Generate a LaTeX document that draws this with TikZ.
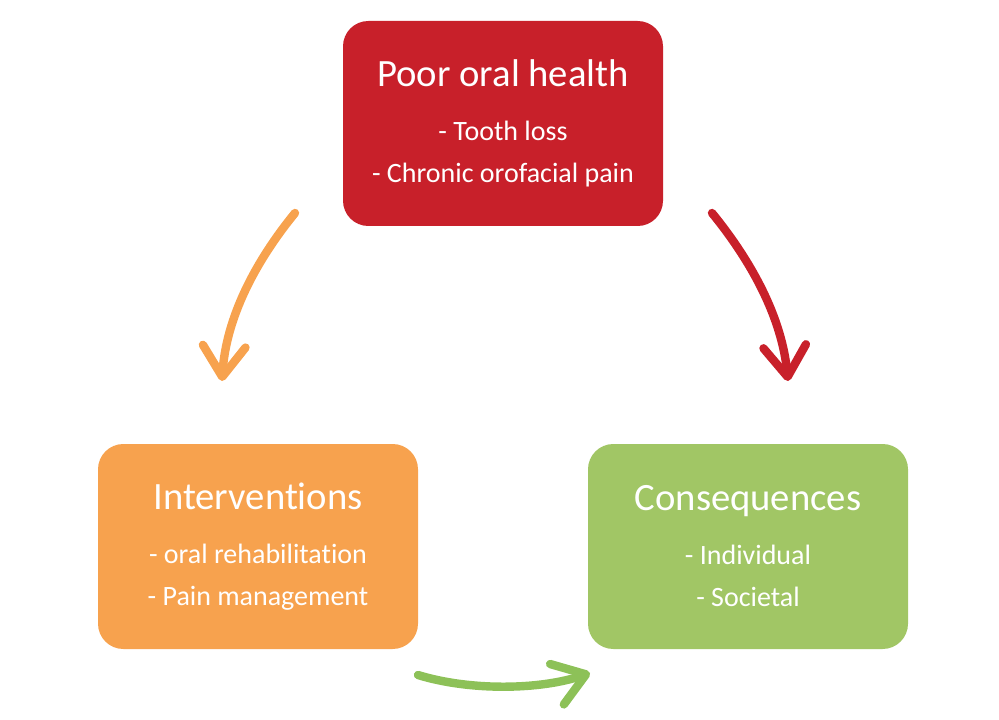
\documentclass[tikz,border=0pt]{standalone}
\usepackage{fontspec}
\setmainfont{Carlito}[Ligatures=NoCommon]
\usetikzlibrary{arrows.meta, positioning}
\definecolor{poorred}{HTML}{C8202A}
\definecolor{intorange}{HTML}{F7A24E}
\definecolor{consgreen}{HTML}{A1C665}
\definecolor{arrowgreen}{HTML}{8DC158}
\newcommand{\titlefont}{\fontsize{29}{31.5}\selectfont}
\newcommand{\itemfont}{\fontsize{21}{31.5}\selectfont}
\tikzset{x=0.75pt, y=-0.75pt, % one unit is one pixel of the figure, y going down
box/.style={rectangle, rounded corners=19pt, minimum width=240pt, minimum height=153.75pt,
  inner sep=0pt, text=white, align=center, font=\itemfont}, % the three coloured boxes
curve/.style={line width=6.3pt, line cap=round,
  -{Straight Barb[length=23pt, width=32pt, round]}}, % thick hand drawn arrows
}

\begin{document}
\begin{tikzpicture}
  \useasboundingbox (0,0) rectangle (999,720);

  \node[box, fill=poorred] (poor) at (503,123.5)
    {\titlefont Poor oral health\\[9pt] - Tooth loss\\ - Chronic orofacial pain};
  \node[box, fill=intorange] (interv) at (258,546.5)
    {\titlefont Interventions\\[9pt] - oral rehabilitation\\ - Pain management};
  \node[box, fill=consgreen] (cons) at (748,546.5)
    {\titlefont Consequences\\[9pt] - Individual\\ - Societal};

  % free ends of the arrows
  \coordinate (poor-l) at (295,213);
  \coordinate (interv-t) at (222,381);
  \coordinate (poor-r) at (712,213);
  \coordinate (cons-t) at (788,381);
  \coordinate (interv-r) at (418,675);
  \coordinate (cons-l) at (590,673);

  \draw[curve, intorange] (poor-l) .. controls (255,262) and (226,318) .. (interv-t);
  \draw[curve, poorred] (poor-r) .. controls (752,262) and (782,318) .. (cons-t);
  \draw[curve, arrowgreen] (interv-r) .. controls (470,691) and (540,690) .. (cons-l);

\end{tikzpicture}
\end{document}
